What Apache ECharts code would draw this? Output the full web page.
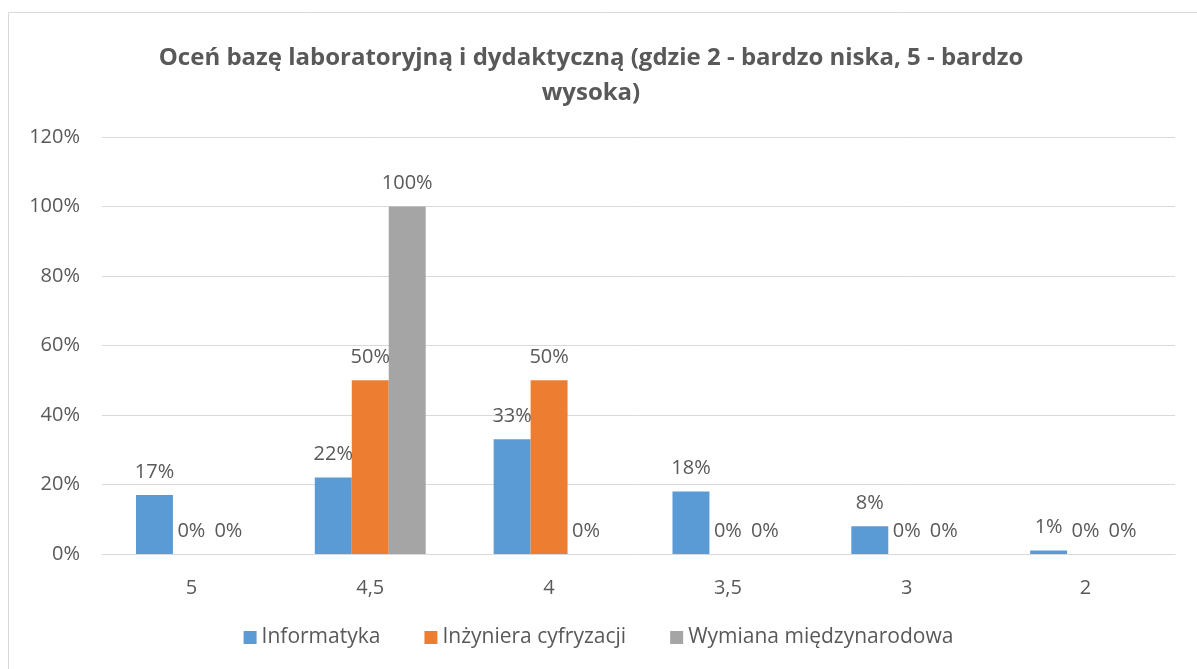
<!doctype html>
<html lang="pl">
<head>
    <meta charset="UTF-8">
    <title>Ocena bazy laboratoryjnej</title>
    <style>
        html, body { margin: 0; padding: 0; background: #fff; }
        #main { width: 1197px; height: 669px; }
    </style>
</head>
<body>
<div id="main"></div>
<script src="https://cdn.jsdelivr.net/npm/echarts@6/dist/echarts.min.js"></script>
<script>
    var categories = ['5', '4,5', '4', '3,5', '3', '2'];
    var informatyka = [17, 22, 33, 18, 8, 1];
    var inzyniera = [0, 50, 50, 0, 0, 0];
    var wymiana = [0, 100, 0, 0, 0, 0];
    var seriesNames = ['Informatyka', 'Inżyniera cyfryzacji', 'Wymiana międzynarodowa'];
    var colors = ['#5b9bd5', '#ed7d31', '#a5a5a5'];

    var font = 'Open Sans';
    var textColor = '#595959';

    function barSeries(name, data) {
        return {
            name: name,
            type: 'bar',
            data: data,
            barGap: 0,
            barCategoryGap: '38%',
            label: {
                show: true,
                position: 'top',
                distance: 13,
                formatter: '{c}%',
                color: textColor,
                fontFamily: font,
                fontSize: 20
            }
        };
    }

    var myChart = echarts.init(document.getElementById('main'));
    var option = {
        color: colors,
        animation: false,
        textStyle: { fontFamily: font },
        title: {
            text: 'Oceń bazę laboratoryjną i dydaktyczną (gdzie 2 - bardzo niska, 5 - bardzo\nwysoka)',
            left: 586,
            top: 36,
            textAlign: 'center',
            textStyle: {
                color: textColor,
                fontFamily: font,
                fontWeight: 'bold',
                fontSize: 24,
                lineHeight: 35
            }
        },
        graphic: [{
            type: 'rect',
            shape: { x: 8.5, y: 12.5, width: 1300, height: 800 },
            style: { fill: 'none', stroke: '#d9d9d9', lineWidth: 1 },
            silent: true
        }],
        legend: {
            bottom: 16,
            left: 'center',
            itemWidth: 13,
            itemHeight: 13,
            itemGap: 44,
            icon: 'rect',
            textStyle: { color: textColor, fontFamily: font, fontSize: 21 },
            data: seriesNames
        },
        grid: {
            left: 102,
            right: 22,
            top: 137,
            bottom: 115
        },
        xAxis: {
            type: 'category',
            data: categories,
            axisLine: { lineStyle: { color: '#d9d9d9' } },
            axisTick: { show: false },
            axisLabel: { color: textColor, fontFamily: font, fontSize: 20, margin: 24 }
        },
        yAxis: {
            type: 'value',
            min: 0,
            max: 120,
            interval: 20,
            axisLine: { show: false },
            axisTick: { show: false },
            splitLine: { lineStyle: { color: '#d9d9d9' } },
            axisLabel: { color: textColor, fontFamily: font, fontSize: 20, margin: 22, formatter: '{value}%' }
        },
        series: [
            barSeries(seriesNames[0], informatyka),
            barSeries(seriesNames[1], inzyniera),
            barSeries(seriesNames[2], wymiana)
        ]
    };
    myChart.setOption(option);
</script>
</body>
</html>
